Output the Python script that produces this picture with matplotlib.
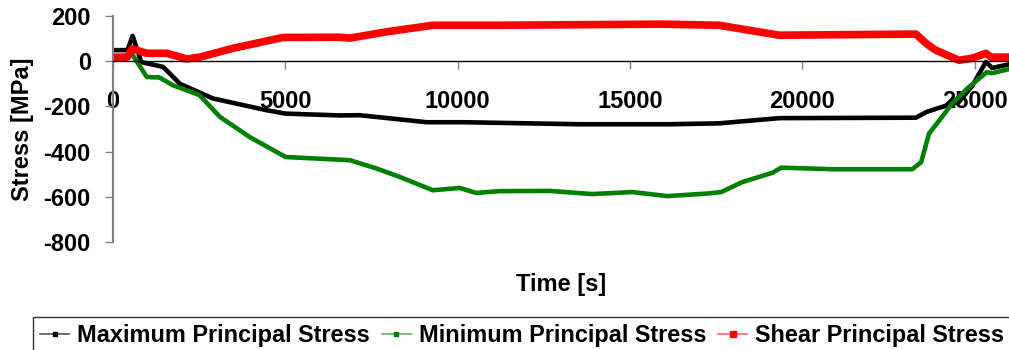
import matplotlib
matplotlib.use("Agg")
import matplotlib.pyplot as plt
from matplotlib.lines import Line2D

plt.rcParams["font.family"] = ["Liberation Sans", "DejaVu Sans"]
plt.rcParams["font.weight"] = "bold"
plt.rcParams["axes.unicode_minus"] = False

# time [s] / stress [MPa] samples for each principal stress
time_max = [0, 420, 570, 820, 1450, 1650, 1940, 2900, 4460, 5010, 6580, 7160,
            9100, 10150, 13540, 16150, 17590, 19330, 23300, 23600, 24000,
            24550, 24930, 25330, 25510, 26000]
stress_max = [49, 49, 112, -4, -25, -55, -100, -165, -217, -232, -240, -239,
              -270, -270, -279, -279, -275, -252, -250, -225, -205,
              -180, -110, -3, -30, -14]

time_min = [580, 980, 1350, 1730, 2510, 3100, 3970, 5010, 6870, 7650, 8320,
            9280, 10060, 10540, 11220, 12670, 13910, 15070, 16090, 17300,
            17650, 18260, 19130, 19390, 20870, 23190, 23450, 23680, 24060,
            24350, 24840, 25360, 25510, 26000]
stress_min = [25, -70, -72, -106, -150, -246, -336, -424, -438, -475, -512,
              -571, -561, -583, -575, -574, -588, -579, -597, -585,
              -579, -535, -494, -471, -478, -478, -447, -320, -246,
              -187, -114, -48, -53, -35]

time_shear = [0, 420, 550, 980, 1560, 2140, 2520, 3480, 4930, 6580, 6870,
              7940, 9280, 11130, 15940, 17590, 19330, 23300, 23600, 23870,
              24550, 24930, 25330, 25480, 26000]
stress_shear = [18, 18, 55, 35, 35, 10, 18, 57, 105, 106, 102,
                130, 159, 159, 164, 159, 115, 120, 78, 49,
                4, 13, 35, 18, 18]

series_names = ["Maximum Principal Stress", "Minimum Principal Stress",
                "Shear Principal Stress"]
x_ticks = [0, 5000, 10000, 15000, 20000, 25000]
y_ticks = [200, 0, -200, -400, -600, -800]

fig = plt.figure(figsize=(10.09, 3.5), dpi=100)
ax = fig.add_axes([0.112, 0.3086, 0.888, 0.6457])

ax.plot(time_max, stress_max, color="black", lw=3.3, solid_joinstyle="round")
ax.plot(time_min, stress_min, color="#008000", lw=3.3, solid_joinstyle="round")
ax.plot(time_shear, stress_shear, color="#ff0000", lw=5.5, solid_joinstyle="round")

ax.set_xlim(0, 26000)
ax.set_ylim(-800, 200)
ax.set_xticks(x_ticks)
ax.set_yticks(y_ticks)
ax.tick_params(labelsize=17, length=6, width=1, color="#808080")
ax.tick_params(axis="y", pad=10)
ax.tick_params(axis="x", pad=15)

ax.spines["top"].set_visible(False)
ax.spines["right"].set_visible(False)
ax.spines["bottom"].set_position(("data", 0))
ax.spines["bottom"].set_linewidth(1)
ax.spines["left"].set_color("#808080")
ax.spines["left"].set_linewidth(1.5)

ax.set_ylabel("Stress [MPa]", fontsize=17, fontweight="bold")
ax.yaxis.label.set_va("center")
ax.yaxis.set_label_coords(-(113 - 22) / 896, 0.5)
ax.set_xlabel("Time [s]", fontsize=17, fontweight="bold")
ax.xaxis.label.set_va("center")
ax.xaxis.set_label_coords(0.5, -0.186)

handles = [
    Line2D([], [], color="#555555", lw=1.2, marker="s", markersize=3,
           markerfacecolor="black", markeredgecolor="black"),
    Line2D([], [], color="#66b366", lw=1.2, marker="s", markersize=3,
           markerfacecolor="#008000", markeredgecolor="#008000"),
    Line2D([], [], color="#ff6666", lw=1.2, marker="s", markersize=4,
           markerfacecolor="#ff0000", markeredgecolor="#ff0000"),
]
leg = fig.legend(handles, series_names, loc="upper left",
                 bbox_to_anchor=(33 / 1009, 33 / 350), ncol=3,
                 fontsize=16.9, frameon=True, fancybox=False,
                 handlelength=1.25, handletextpad=0.33, columnspacing=0.5,
                 borderpad=0.3, borderaxespad=0)
leg.get_frame().set_edgecolor("black")
leg.get_frame().set_linewidth(1)

fig.savefig("out.png", dpi=100)
